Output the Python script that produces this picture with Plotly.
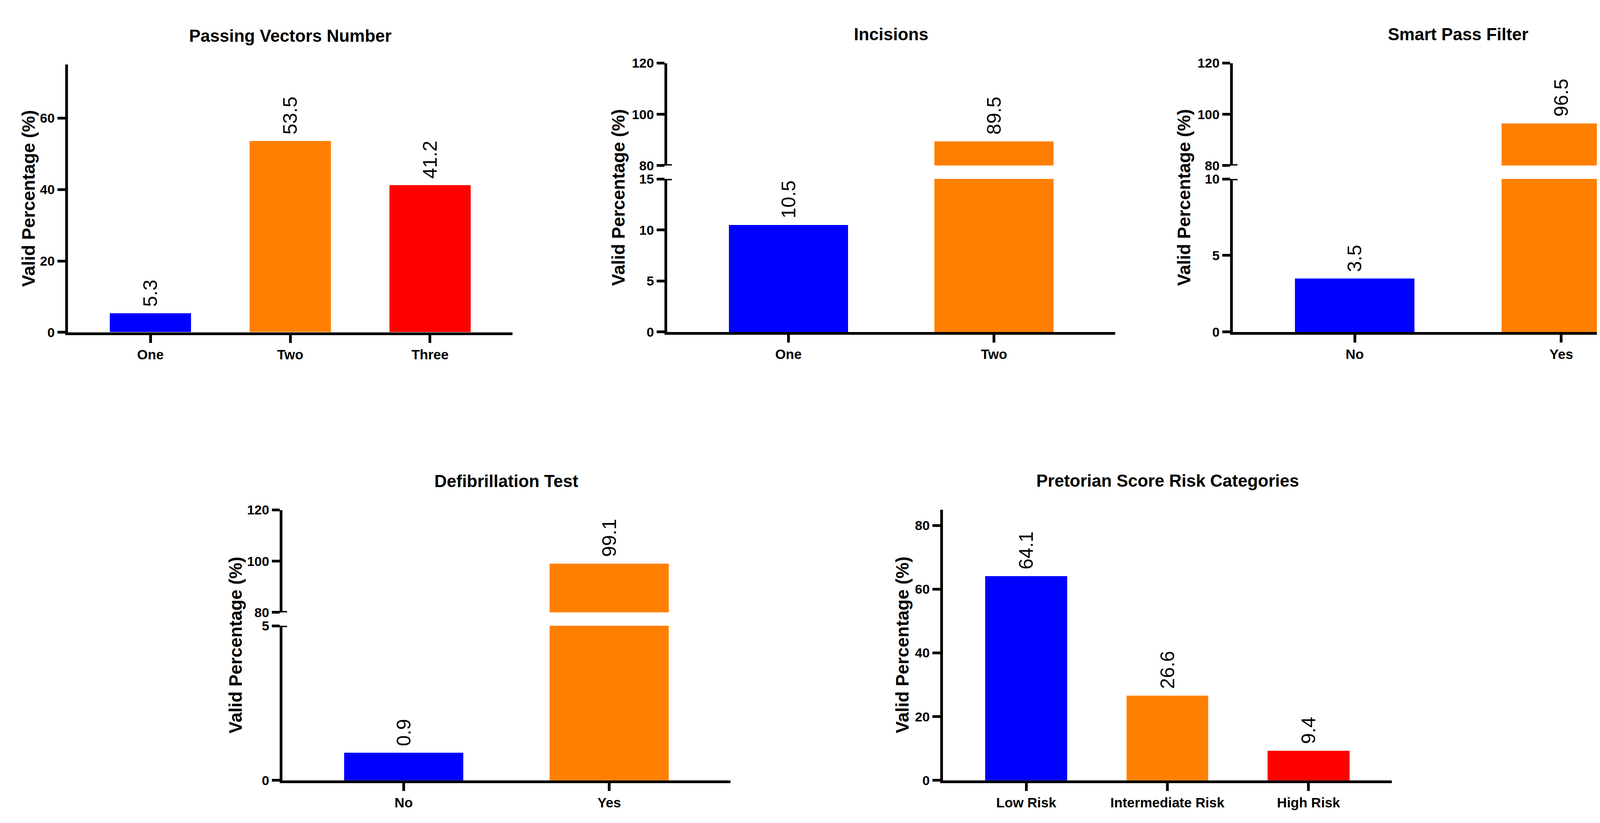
import plotly.graph_objects as go

W, H = 4327, 2107

# values
vectors_cats = ["One", "Two", "Three"]
vectors_vals = [5.3, 53.5, 41.2]

incision_cats = ["One", "Two"]
incision_vals = [10.5, 89.5]

filter_cats = ["No", "Yes"]
filter_vals = [3.5, 96.5]

defib_cats = ["No", "Yes"]
defib_vals = [0.9, 99.1]

risk_cats = ["Low Risk", "Intermediate Risk", "High Risk"]
risk_vals = [64.1, 26.6, 9.4]

BLUE, ORANGE, RED = "#0000FF", "#FF8000", "#FF0000"
FONT = "Liberation Sans, Arial, Helvetica, sans-serif"
Y_TITLE = "Valid Percentage (%)"

# panel layout in pixels: x span of axis, lower y span (top, bottom), optional upper (broken) y span
panels = [
    dict(title="Passing Vectors Number", cats=vectors_cats, vals=vectors_vals,
         colors=[BLUE, ORANGE, RED], x=(166, 1304), low=(141, 839), low_range=[0, 75],
         low_ticks=[0, 20, 40, 60], up=None, title_off=101),
    dict(title="Incisions", cats=incision_cats, vals=incision_vals,
         colors=[BLUE, ORANGE], x=(1700, 2847), low=(439, 838), low_range=[0, 15],
         low_ticks=[0, 5, 10, 15], up=(137, 404), title_off=125),
    dict(title="Smart Pass Filter", cats=filter_cats, vals=filter_vals,
         colors=[BLUE, ORANGE], x=(3148, 4301), low=(439, 838), low_range=[0, 10],
         low_ticks=[0, 5, 10], up=(137, 404), title_off=125),
    dict(title="Defibrillation Test", cats=defib_cats, vals=defib_vals,
         colors=[BLUE, ORANGE], x=(715, 1862), low=(1604, 2007), low_range=[0, 5],
         low_ticks=[0, 5], up=(1302, 1569), title_off=120),
    dict(title="Pretorian Score Risk Categories", cats=risk_cats, vals=risk_vals,
         colors=[BLUE, ORANGE, RED], x=(2406, 3555), low=(1301, 2007), low_range=[0, 85],
         low_ticks=[0, 20, 40, 60, 80], up=None, title_off=104),
]
UP_RANGE = [80, 120]
UP_TICKS = [80, 100, 120]


def px_x(p):
    return p / W


def px_y(p):
    return 1 - p / H


def label(v):
    # small lead space keeps the rotated number off the bar top
    return "\u00a0" + f"{v:.1f}"


axis_style = dict(showline=True, linecolor="black", linewidth=7, ticks="outside",
                  ticklen=20, tickwidth=7, tickcolor="black", showgrid=False,
                  zeroline=False, fixedrange=True,
                  tickfont=dict(family=FONT, size=34, color="black", weight="bold"))

fig = go.Figure()
layout = {}
annotations = []
shapes = []
extra = 6

for i, p in enumerate(panels, start=1):
    n = len(p["cats"])
    xa, ya = f"x{i}", f"y{i}"
    layout[f"xaxis{i}"] = dict(axis_style, domain=[px_x(p["x"][0]), px_x(p["x"][1])],
                               anchor=ya, type="category", range=[-0.59, n - 0.41],
                               tickfont=dict(family=FONT, size=35, color="black", weight="bold"))
    layout[f"yaxis{i}"] = dict(axis_style, domain=[px_y(p["low"][1]), px_y(p["low"][0])],
                               anchor=xa, range=p["low_range"], tickvals=p["low_ticks"])
    top = p["low_range"][1]
    fig.add_trace(go.Bar(
        x=p["cats"], y=p["vals"], marker=dict(color=p["colors"], line=dict(width=0)),
        width=0.58, text=[label(v) if v <= top else "" for v in p["vals"]],
        textposition="outside", textangle=-90, constraintext="none",
        textfont=dict(family=FONT, size=50, color="black"),
        xaxis=xa, yaxis=ya, showlegend=False, hoverinfo="skip"))

    span_top = p["low"][0]
    if p["up"] is not None:
        extra += 1
        yu = f"y{extra}"
        layout[f"yaxis{extra}"] = dict(axis_style, domain=[px_y(p["up"][1]), px_y(p["up"][0])],
                                       anchor=xa, range=UP_RANGE, tickvals=UP_TICKS)
        fig.add_trace(go.Bar(
            x=p["cats"], y=p["vals"], marker=dict(color=p["colors"], line=dict(width=0)),
            width=0.58, text=[label(v) if v > UP_RANGE[0] else "" for v in p["vals"]],
            textposition="outside", textangle=-90, constraintext="none",
            textfont=dict(family=FONT, size=50, color="black"),
            xaxis=xa, yaxis=yu, showlegend=False, hoverinfo="skip"))
        # break caps on both sides of the gap
        for yref, yv in ((yu, UP_RANGE[0]), (ya, top)):
            shapes.append(dict(type="line", xref=f"{xa} domain", yref=yref,
                               xsizemode="pixel", xanchor=0, x0=-12, x1=12,
                               y0=yv, y1=yv, line=dict(color="black", width=7)))
        span_top = p["up"][0]

    cx = (p["x"][0] + p["x"][1]) / 2
    annotations.append(dict(text=f"<b>{p['title']}</b>", xref="paper", yref="paper",
                            x=px_x(cx), y=px_y(span_top - 75), xanchor="center",
                            yanchor="middle", showarrow=False,
                            font=dict(family=FONT, size=44, color="black")))
    cy = (span_top + p["low"][1]) / 2
    annotations.append(dict(text=f"<b>{Y_TITLE}</b>", xref="paper", yref="paper",
                            x=px_x(p["x"][0] - p["title_off"]), y=px_y(cy),
                            xanchor="center", yanchor="middle", textangle=-90,
                            showarrow=False,
                            font=dict(family=FONT, size=46, color="black")))

fig.update_layout(width=W, height=H, autosize=False,
                  margin=dict(l=0, r=0, t=0, b=0),
                  paper_bgcolor="white", plot_bgcolor="white",
                  annotations=annotations, shapes=shapes, bargap=0, **layout)

fig.write_html("out.html")
